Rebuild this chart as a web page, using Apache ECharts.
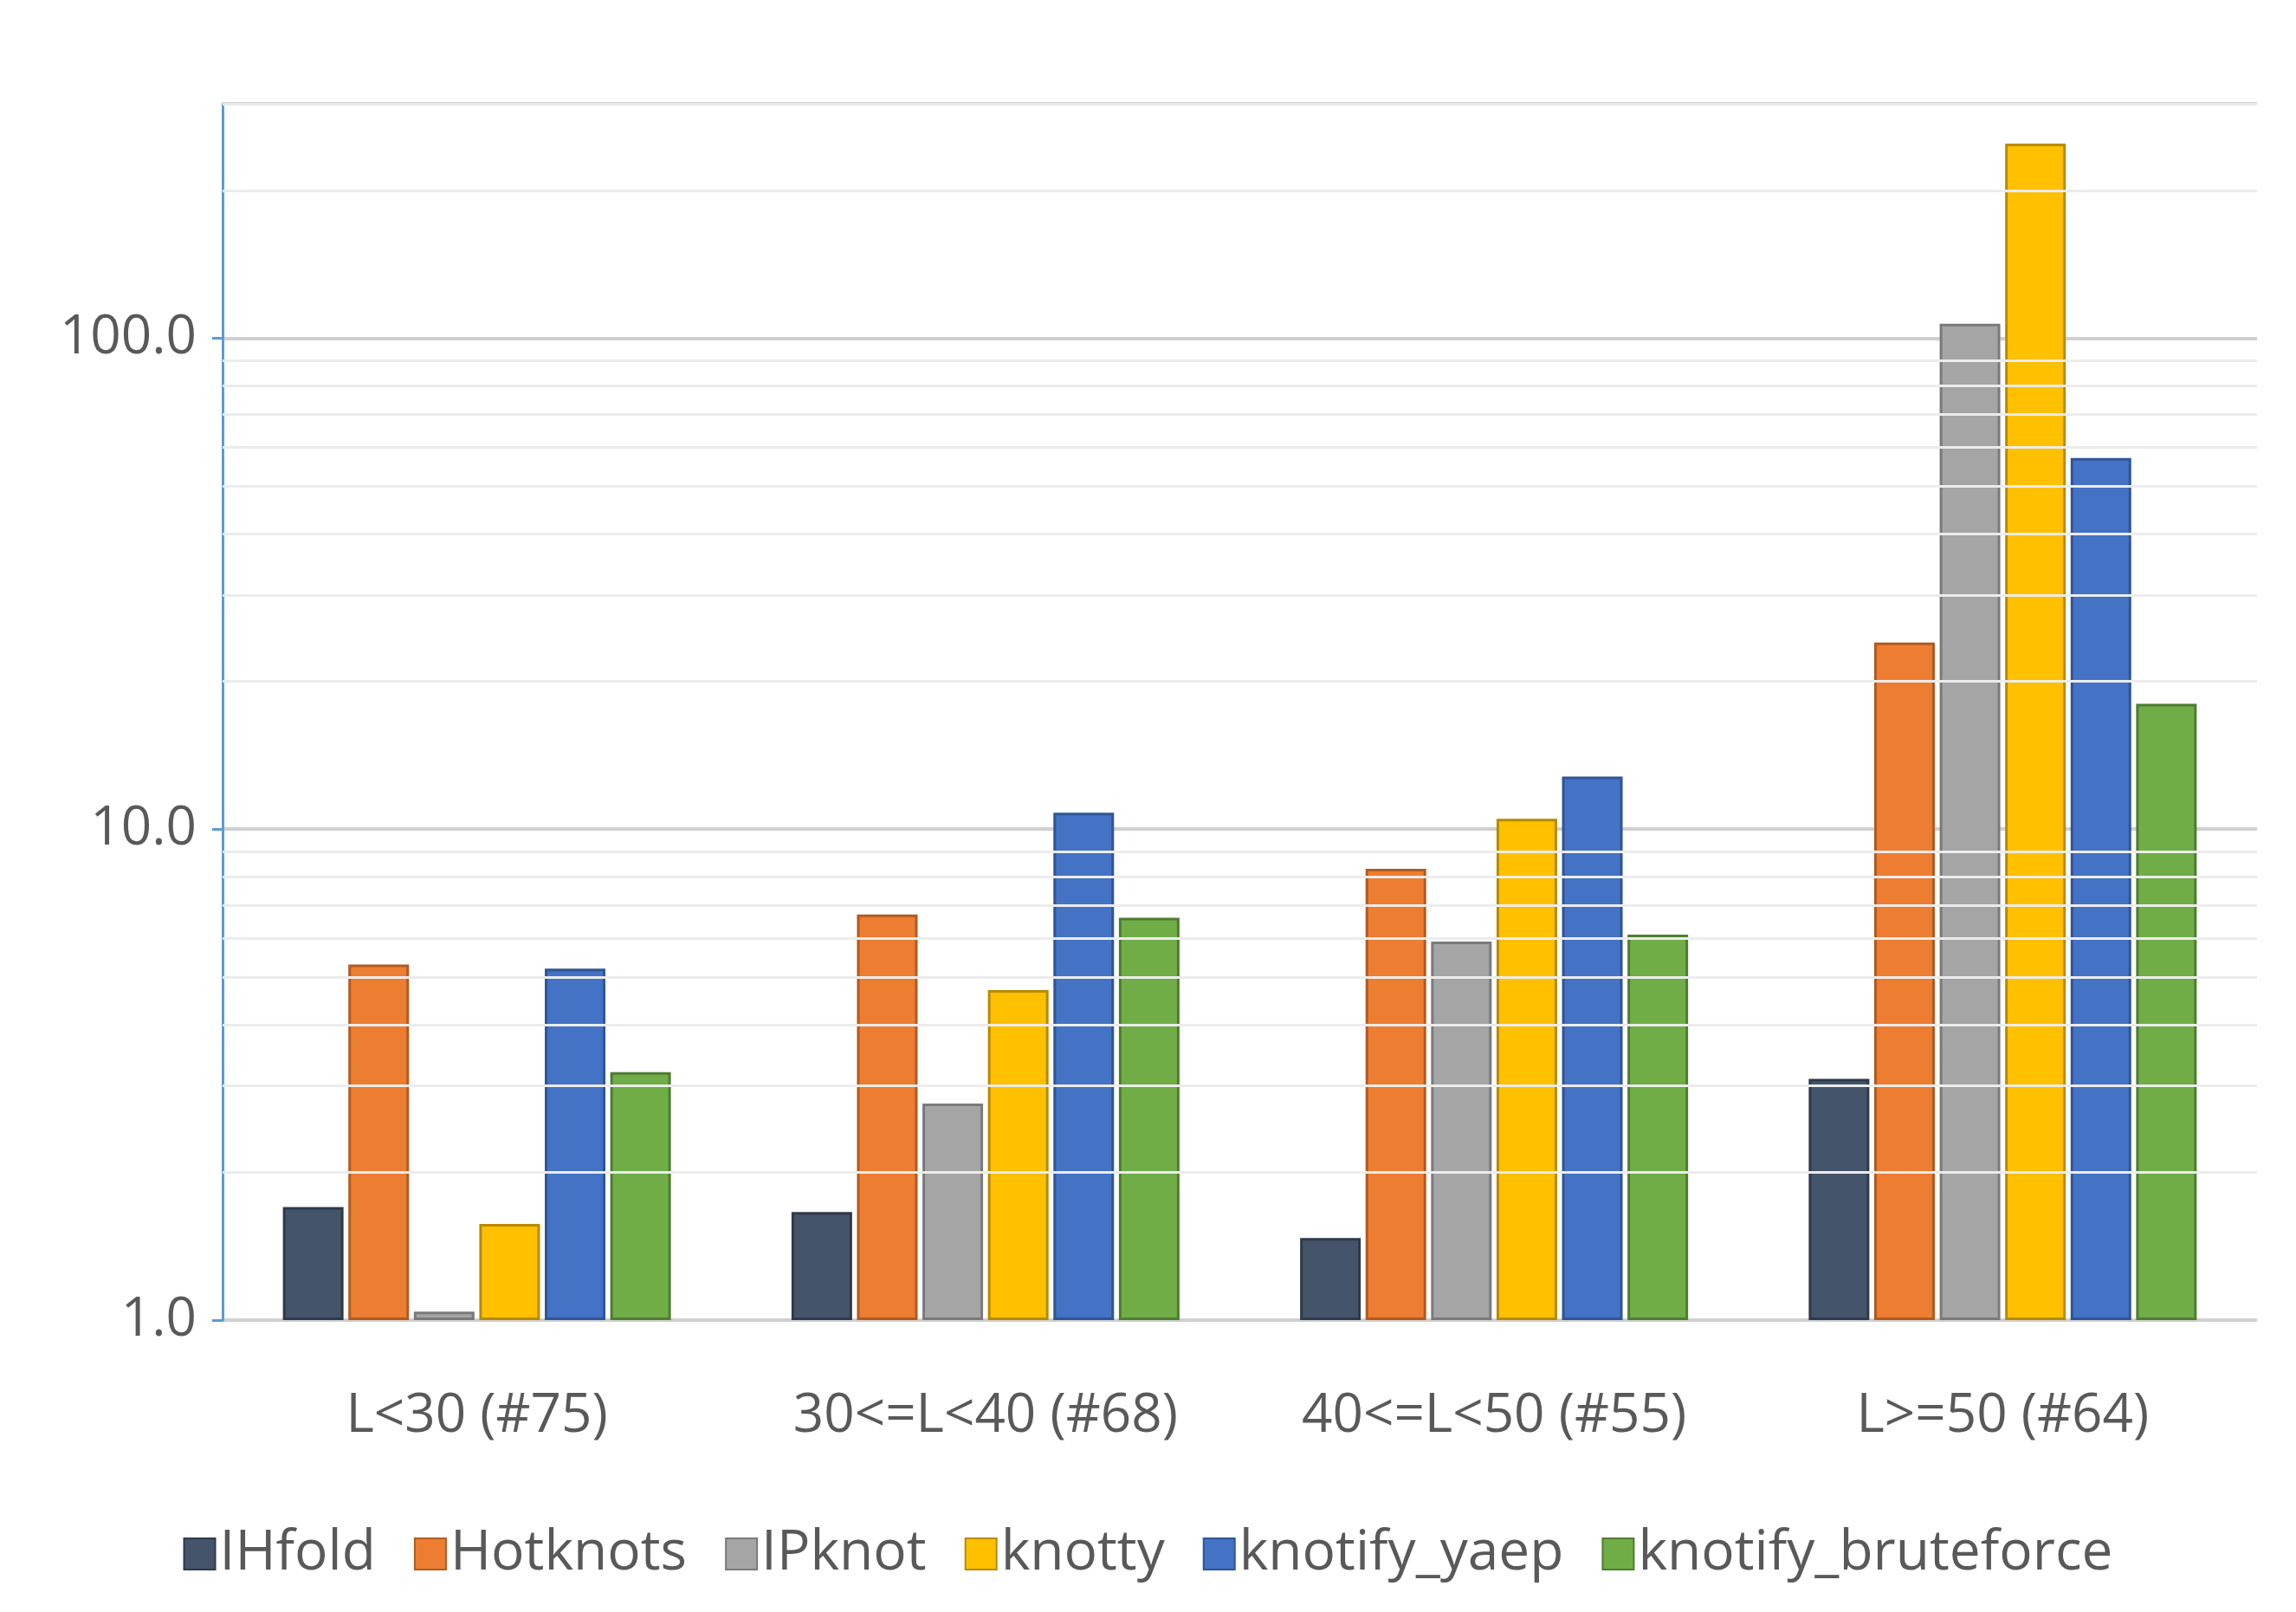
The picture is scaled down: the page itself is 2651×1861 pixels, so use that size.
<!DOCTYPE html>
<html>
<head>
<meta charset="utf-8">
<script src="https://cdn.jsdelivr.net/npm/echarts@6/dist/echarts.min.js"></script>
<style>html,body{margin:0;background:#fff}#chart{width:2651px;height:1861px}</style>
</head>
<body>
<div id="chart"></div>
<script>
// Dữ liệu (trục log)
const categories = ['L<30 (#75)', '30<=L<40 (#68)', '40<=L<50 (#55)', 'L>=50 (#64)'];
const seriesNames = ['IHfold', 'Hotknots', 'IPknot', 'knotty', 'knotify_yaep', 'knotify_bruteforce'];
const colors = ['#44546a', '#ed7d31', '#a5a5a5', '#ffc000', '#4472c4', '#70ad47'];
const borders = ['#2e3a4a', '#b35a1f', '#7a7a7a', '#b88a00', '#2f5597', '#4e7d30'];
const IHfold = [1.7, 1.66, 1.47, 3.1];
const Hotknots = [5.3, 6.7, 8.3, 24];
const IPknot = [1.04, 2.76, 5.9, 107];
const knotty = [1.57, 4.7, 10.5, 249];
const knotify_yaep = [5.2, 10.8, 12.8, 57];
const knotify_bruteforce = [3.2, 6.6, 6.1, 18];
const values = [IHfold, Hotknots, IPknot, knotty, knotify_yaep, knotify_bruteforce];
// Đường lưới phụ
const minorGrid = [2, 3, 4, 5, 6, 7, 8, 9, 20, 30, 40, 50, 60, 70, 80, 90, 200, 300];

const myChart = echarts.init(document.getElementById('chart'));
myChart.setOption({
  textStyle: { fontFamily: 'Open Sans' },
  grid: { left: 257, right: 45, top: 120, bottom: 337 },
  legend: {
    bottom: 30,
    left: 'center',
    itemWidth: 36, itemHeight: 36, itemGap: 44,
    icon: 'rect',
    textStyle: { fontSize: 64, color: '#595959' },
    data: seriesNames
  },
  xAxis: {
    type: 'category',
    data: categories,
    axisLine: { show: false },
    axisTick: { show: false },
    axisLabel: { fontSize: 62, color: '#595959', margin: 80 }
  },
  yAxis: {
    type: 'log',
    logBase: 10,
    min: 1,
    max: 300,
    axisLine: { show: true, lineStyle: { color: '#5b9bd5', width: 3 } },
    axisTick: { show: true, length: 12, lineStyle: { color: '#5b9bd5', width: 3 } },
    axisLabel: { fontSize: 62, color: '#595959', formatter: v => v.toFixed(1), margin: 30, showMaxLabel: false },
    splitLine: { lineStyle: { color: '#d0d0d0', width: 4 } }
  },
  series: seriesNames.map((name, i) => ({
    name,
    type: 'bar',
    data: values[i],
    barWidth: 70,
    barGap: '8%',
    itemStyle: { color: colors[i], borderColor: borders[i], borderWidth: 3 },
    markLine: i === 0 ? {
      silent: true,
      symbol: 'none',
      label: { show: false },
      lineStyle: { color: '#ececec', width: 3, type: 'solid' },
      data: minorGrid.map(v => ({ yAxis: v }))
    } : undefined,
    z: 3
  }))
});
</script>
</body>
</html>
